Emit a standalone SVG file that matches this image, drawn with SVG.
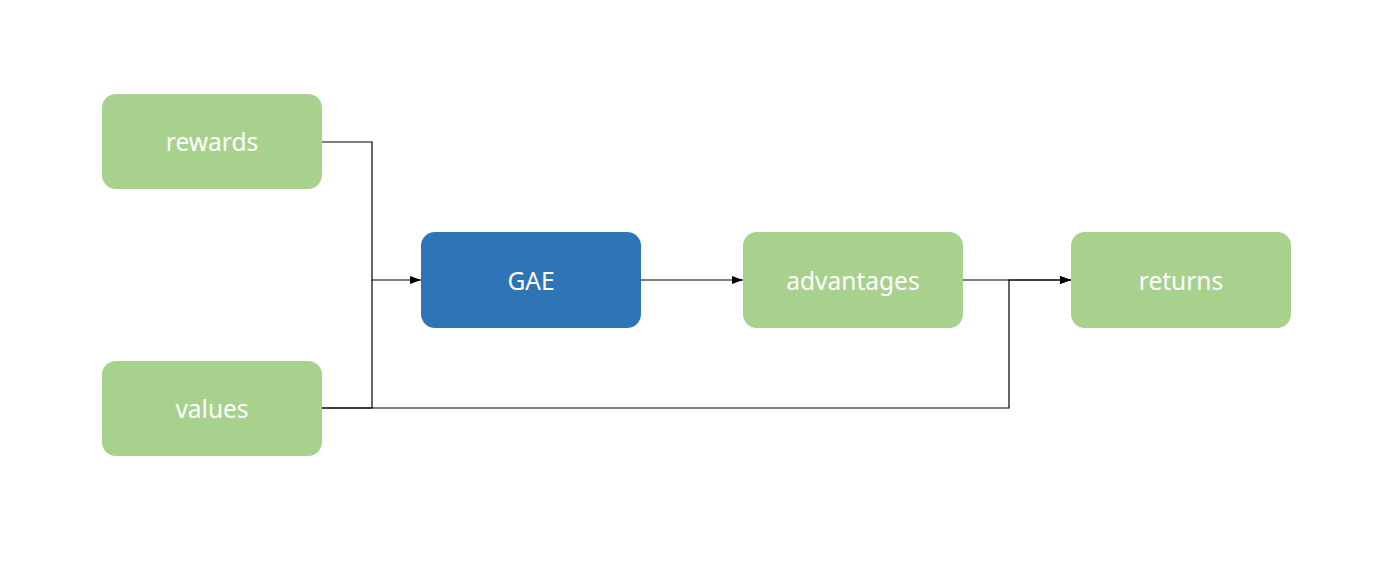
<svg xmlns="http://www.w3.org/2000/svg" width="1385" height="563" viewBox="0 0 1385 563">
<style>
.g{fill:#A9D18E}
.b{fill:#2E75B6}
.t{fill:#FFFFFF;font-family:"Noto Sans","Open Sans",sans-serif;font-size:24.5px;text-anchor:middle;dominant-baseline:central}
.c{fill:none;stroke:#000;stroke-width:1.2}
</style>
<defs>
<marker id="ah" markerWidth="11" markerHeight="8" refX="11" refY="4" orient="auto" markerUnits="userSpaceOnUse">
<path d="M0,0 L11,4 L0,8 Z" fill="#000"/>
</marker>
</defs>
<rect width="1385" height="563" fill="#fff"/>
<g id="connectors">
<path class="c" d="M322,142 H372 V280 H421" marker-end="url(#ah)"/>
<path class="c" d="M322,408 H372 V280"/>
<path class="c" d="M322,408 H1009 V280 H1071" marker-end="url(#ah)"/>
<path class="c" d="M641,280 H743" marker-end="url(#ah)"/>
<path class="c" d="M963,280 H1071" marker-end="url(#ah)"/>
</g>
<g id="rewards"><rect class="g" x="102" y="94" width="220" height="95" rx="14"/><text class="t" x="212" y="141.5">rewards</text></g>
<g id="values"><rect class="g" x="102" y="361" width="220" height="95" rx="14"/><text class="t" x="212" y="408.5">values</text></g>
<g id="gae"><rect class="b" x="421" y="232" width="220" height="96" rx="14"/><text class="t" x="531" y="280">GAE</text></g>
<g id="advantages"><rect class="g" x="743" y="232" width="220" height="96" rx="14"/><text class="t" x="853" y="280">advantages</text></g>
<g id="returns"><rect class="g" x="1071" y="232" width="220" height="96" rx="14"/><text class="t" x="1181" y="280">returns</text></g>
</svg>
